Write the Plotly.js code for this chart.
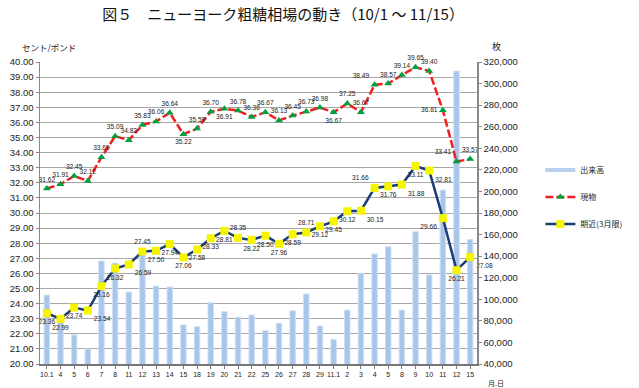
<!DOCTYPE html>
<html>
<head>
<meta charset="utf-8">
<script src="https://cdn.plot.ly/plotly-3.0.1.min.js"></script>
<style>html,body{margin:0;padding:0;background:#fff;}#chart{width:639px;height:388px;}</style>
</head>
<body>
<div id="chart"></div>
<script>
var dateLabels = ['10.1','4','5','6','7','8','11','12','13','14','15','18','19','20','21','22','25','26','27','28','29','11.1','2','3','4','5','8','9','10','11','12','15'];
var volume = [104000,82000,67000,54000,135500,133600,106700,141000,112300,111400,76200,74600,96800,88500,83300,85400,70900,77700,89400,104900,75200,62900,90000,124100,142000,148700,90000,162600,122500,201300,311600,155500];
var spot = [31.62,31.91,32.45,32.12,33.69,35.09,34.82,35.83,36.06,36.64,35.22,35.59,36.70,36.91,36.78,36.36,36.67,36.13,36.45,36.73,36.98,36.67,37.25,36.67,38.49,38.57,39.14,39.65,39.40,36.81,33.41,33.57];
var nearby = [23.36,22.99,23.74,23.54,25.16,26.32,26.59,27.45,27.50,27.94,27.06,27.58,28.33,28.81,28.35,28.22,28.50,27.96,28.59,28.71,29.12,29.45,30.12,30.15,31.66,31.76,31.88,33.11,32.81,29.66,26.21,27.08];

var idx = dateLabels.map(function(d,i){return i;});
var fmt = function(v){return v.toFixed(2);};

var spotPos = ['top center','top center','top center','top center','top center','top center','top center','top center','top center','top center',
  'bottom center','top center','top center','bottom center','top center','top center','top center','top center','top center','top center',
  'top center','bottom center','top center','top center','top left','top center','top center','top center','top center','middle left',
  'top left','top center'];
var nearPos = ['bottom center','bottom center','bottom center','bottom right','bottom center','bottom center','bottom right','top center','bottom center','bottom center',
  'bottom center','bottom center','bottom center','bottom center','top center','bottom center','bottom center','bottom center','bottom center','top center',
  'bottom center','bottom center','bottom center','bottom right','top left','bottom center','bottom right','bottom center','bottom right','bottom left',
  'bottom center','bottom right'];

var lblFont = {family:'Liberation Sans, Arial, sans-serif', size:6.6, color:'#222'};

var traces = [
  {type:'bar', name:'出来高', x:idx, y:volume, yaxis:'y', width:0.4, showlegend:false,
   marker:{color:'#A8C5EA', line:{color:'#CFDFF3', width:1}}, hoverinfo:'y'},
  {type:'scatter', mode:'lines', name:'出来高', x:[null], y:[null], yaxis:'y', legendgroup:'a',
   line:{color:'#B9D0EE', width:4}, hoverinfo:'skip'},
  {type:'scatter', mode:'lines+markers+text', name:'現物', x:idx, y:spot, yaxis:'y2', legendgroup:'b',
   line:{color:'#F02020', width:2.5, dash:'8px,3px'},
   marker:{symbol:'triangle-up', color:'#00A040', size:7},
   text:spot.map(fmt), textposition:spotPos, textfont:lblFont, cliponaxis:false},
  {type:'scatter', mode:'lines+markers+text', name:'期近(3月限)', x:idx, y:nearby, yaxis:'y2', legendgroup:'c',
   line:{color:'#1B3C78', width:2.5},
   marker:{symbol:'square', color:'#F5F500', size:8},
   text:nearby.map(fmt), textposition:nearPos, textfont:lblFont, cliponaxis:false}
];

var tickFont = {family:'Liberation Sans, Arial, sans-serif', size:9.5, color:'#222'};

var layout = {
  width:639, height:388,
  margin:{l:40, r:133, t:62, b:24, pad:0},
  paper_bgcolor:'#fff', plot_bgcolor:'#fff',
  font:{family:'Noto Sans CJK JP, sans-serif', color:'#222'},
  title:{text:'図５　ニューヨーク粗糖相場の動き（10/1 ～ 11/15）', font:{family:'Noto Sans CJK JP, sans-serif', size:15, color:'#111'}, x:0.443, xref:'container', xanchor:'center', y:0.962, yanchor:'middle'},
  showlegend:true,
  legend:{x:1.145, xanchor:'left', y:0.69, yanchor:'top', font:{family:'Noto Sans CJK JP, sans-serif', size:8, color:'#222'}, tracegroupgap:8, itemwidth:30, bgcolor:'rgba(0,0,0,0)'},
  bargap:0.6,
  xaxis:{range:[-0.5,31.5], tickvals:idx, ticktext:dateLabels, showgrid:false, zeroline:false,
    showline:true, linecolor:'#777', linewidth:1.5, ticks:'outside', ticklen:3, tickcolor:'#777',
    tickfont:{family:'Liberation Sans, Arial, sans-serif', size:7, color:'#222'}, tickangle:0, fixedrange:true},
  yaxis:{side:'right', range:[40000,320000], dtick:20000, tickformat:',d', showgrid:false, zeroline:false,
    showline:true, linecolor:'#888', linewidth:1.5, ticks:'outside', ticklen:3, tickcolor:'#888', tickfont:tickFont},
  yaxis2:{overlaying:'y', side:'left', range:[20,40], dtick:1, tickformat:'.2f', showgrid:true, gridcolor:'#A8A8A8', gridwidth:1,
    zeroline:false, showline:true, linecolor:'#888', linewidth:1.5, ticks:'outside', ticklen:3, tickcolor:'#888', tickfont:tickFont},
  annotations:[
    {text:'セント/ポンド', xref:'paper', yref:'paper', x:-0.045, y:1.05, xanchor:'left', yanchor:'middle', showarrow:false, font:{family:'Noto Sans CJK JP, sans-serif', size:8.5, color:'#222'}},
    {text:'枚', xref:'paper', yref:'paper', x:1.03, y:1.05, xanchor:'left', yanchor:'middle', showarrow:false, font:{family:'Noto Sans CJK JP, sans-serif', size:9, color:'#222'}},
    {text:'月.日', xref:'paper', yref:'paper', x:1.02, y:-0.063, xanchor:'left', yanchor:'middle', showarrow:false, font:{family:'Noto Sans CJK JP, sans-serif', size:7, color:'#222'}}
  ]
};

Plotly.newPlot('chart', traces, layout, {displayModeBar:false, staticPlot:true});
</script>
</body>
</html>
